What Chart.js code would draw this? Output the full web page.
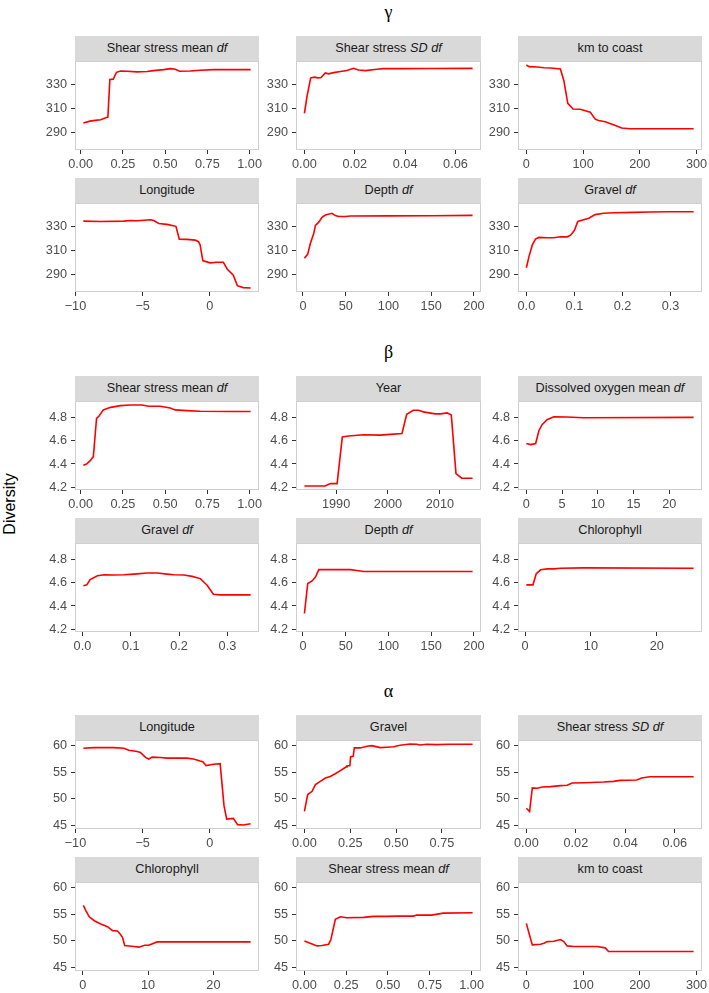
<!DOCTYPE html>
<html><head><meta charset="utf-8">
<script src="https://cdn.jsdelivr.net/npm/chart.js@4.4.0/dist/chart.umd.min.js"></script>
<style>
html,body{margin:0;padding:0;background:#fff;}
body{width:709px;height:993px;position:relative;overflow:hidden;font-family:'Liberation Sans',Arial,sans-serif;}
.strip{position:absolute;background:#D9D9D9;color:#1A1A1A;font-size:12.7px;text-align:center;height:25px;line-height:25px;white-space:nowrap;}
.gtitle{position:absolute;left:75px;width:627px;text-align:center;font-family:'Liberation Serif','DejaVu Serif',serif;font-size:18px;line-height:18px;color:#000;}
.ylab{position:absolute;left:10px;top:504px;transform:translate(-50%,-50%) rotate(-90deg);font-size:16px;color:#000;white-space:nowrap;}
canvas{position:absolute;}
</style></head><body>
<div class="ylab">Diversity</div>
<script>
// ---------- Tick values / labels ----------
const gammaYTicks = [290, 310, 330];
const betaYTicks = [4.2, 4.4, 4.6, 4.8];
const betaYLabels = ["4.2", "4.4", "4.6", "4.8"];
const alphaYTicks = [45, 50, 55, 60];
const ticks0to1 = [0, 0.25, 0.5, 0.75, 1];
const labels0to1 = ["0.00", "0.25", "0.50", "0.75", "1.00"];
const ticks0to075 = [0, 0.25, 0.5, 0.75];
const labels0to075 = ["0.00", "0.25", "0.50", "0.75"];
const ticksSD = [0, 0.02, 0.04, 0.06];
const labelsSD = ["0.00", "0.02", "0.04", "0.06"];
const ticksKm = [0, 100, 200, 300];
const labelsKm = ["0", "100", "200", "300"];
const ticksLon = [-10, -5, 0];
const labelsLon = ["\u221210", "\u22125", "0"];
const ticksDepth = [0, 50, 100, 150, 200];
const labelsDepth = ["0", "50", "100", "150", "200"];
const ticksGravelDf = [0, 0.1, 0.2, 0.3];
const labelsGravelDf = ["0.0", "0.1", "0.2", "0.3"];
const ticksYear = [1990, 2000, 2010];
const labelsYear = ["1990", "2000", "2010"];
const ticksDO = [0, 5, 10, 15, 20];
const labelsDO = ["0", "5", "10", "15", "20"];
const ticksChl = [0, 10, 20];
const labelsChl = ["0", "10", "20"];

// ---------- Group titles ----------
const groupTitles = ["\u03B3", "\u03B2", "\u03B1"];
const yAxisTitle = "Diversity";

// ---------- gamma ----------
const gShearMeanX = [0.016,0.055,0.098,0.118,0.153,0.161,0.173,0.193,0.212,0.236,0.275,0.334,0.393,0.432,0.491,0.530,0.560,0.586,0.648,0.707,0.786,0.904,1.006];
const gShearMeanY = [298.2,299.8,300.6,300.9,302.8,303.1,334.4,334.6,340.3,341.4,341.2,340.6,340.9,341.7,342.5,343.3,342.8,341.2,341.4,342.0,342.5,342.5,342.5];
const gShearSDX = [0,0.001,0.0025,0.004,0.0054,0.0066,0.0083,0.0096,0.0116,0.0143,0.0169,0.0195,0.0215,0.0242,0.0288,0.0314,0.0392,0.05,0.0668];
const gShearSDY = [306.3,320,335.7,336.3,335.7,336,339.8,339,340,340.9,341.7,343.6,342.2,341.7,342.8,343.3,343.3,343.4,343.5];
const gKmX = [0,4.7,19.3,31,42.6,60,66,73,82.3,95,112.7,121.4,127.3,139,153.5,168,182.7,217.7,294.8];
const gKmY = [346.3,345,344.7,344.1,343.9,343,333.5,314.5,309.9,309.6,307.1,301.4,300.3,299.3,296.8,294.1,293.5,293.5,293.5];
const gLonX = [-9.41,-8.12,-6.4,-5.9,-5.4,-4.42,-4.17,-3.8,-3.19,-2.52,-2.27,-1.7,-1.09,-0.84,-0.72,-0.52,0.02,0.52,1.01,1.31,1.75,2.05,2.49,3.04];
const gLonY = [334.6,334.3,334.6,335.1,334.9,335.7,335.1,332.7,331.9,330.3,319.7,319.5,318.9,317.6,314.9,301.9,300,300.5,300.5,294.6,289.7,281.1,279.5,279.2];
const gDepthX = [1.7,5.6,8.7,12.6,14.6,18.5,22.3,26.2,34,37.9,41.8,49.5,55.4,100,150,198.4];
const gDepthY = [303.8,307.3,316.2,324.3,331.1,333.8,337.8,339.7,341.1,339.2,338.4,338.4,338.9,339,339.1,339.4];
const gGravelX = [0,0.0055,0.0124,0.019,0.026,0.043,0.057,0.071,0.085,0.092,0.1,0.107,0.119,0.13,0.143,0.161,0.181,0.223,0.257,0.299,0.348];
const gGravelY = [296,305.4,314.9,319.7,321.1,320.8,320.8,321.6,321.6,323,327,334.3,335.7,337,340,341.1,341.6,341.9,342.2,342.4,342.4];

// ---------- beta ----------
const bShearMeanX = [0.016,0.035,0.055,0.075,0.094,0.11,0.134,0.177,0.236,0.295,0.363,0.403,0.472,0.53,0.56,0.629,0.707,0.904,1.006];
const bShearMeanY = [4.39,4.40,4.427,4.464,4.794,4.817,4.868,4.89,4.905,4.91,4.91,4.899,4.899,4.885,4.868,4.862,4.856,4.854,4.854];
const bYearX = [1983.9,1987.9,1988.9,1990.2,1991.2,1992.4,1995.3,1998.5,2000.4,2002.7,2003.6,2004.9,2005.9,2006.8,2009.1,2010.1,2011.4,2012.2,2013.1,2014.2,2016.3];
const bYearY = [4.21,4.21,4.23,4.23,4.633,4.642,4.653,4.65,4.656,4.664,4.83,4.865,4.865,4.851,4.834,4.834,4.842,4.823,4.317,4.277,4.277];
const bOxygenX = [0,0.6,1.3,1.76,2.2,2.9,3.84,5.7,8,23.4];
const bOxygenY = [4.577,4.568,4.577,4.69,4.74,4.783,4.808,4.806,4.8,4.803];
const bGravelX = [0.002,0.009,0.016,0.031,0.045,0.065,0.086,0.107,0.134,0.155,0.175,0.189,0.21,0.227,0.244,0.258,0.271,0.285,0.313,0.348];
const bGravelY = [4.575,4.583,4.628,4.662,4.67,4.668,4.67,4.676,4.685,4.685,4.676,4.67,4.668,4.656,4.637,4.58,4.501,4.496,4.496,4.496];
const bDepthX = [1.7,5.6,10.7,14.6,18.5,35.9,55.4,63.1,70.9,94.2,198.4];
const bDepthY = [4.335,4.594,4.617,4.65,4.715,4.715,4.715,4.707,4.699,4.699,4.699];
const bChlX = [0.2,1.2,1.7,2.37,3.37,4.38,5.39,8.9,25.6];
const bChlY = [4.583,4.583,4.679,4.713,4.721,4.721,4.727,4.73,4.727];

// ---------- alpha ----------
const aLonX = [-9.41,-8.62,-7.14,-6.4,-6.02,-5.4,-5.16,-4.79,-4.54,-4.3,-3.68,-3.19,-1.7,-1.21,-0.72,-0.52,-0.27,0.27,0.77,1.06,1.26,1.75,2.07,2.49,3.04];
const aLonY = [59.5,59.63,59.63,59.5,59.14,58.9,58.7,57.78,57.47,57.84,57.78,57.65,57.65,57.47,57.1,56.98,56.23,56.48,56.6,48.64,46.17,46.3,45.12,45.06,45.3];
const aGravelX = [0,0.018,0.042,0.06,0.087,0.114,0.141,0.168,0.196,0.214,0.228,0.232,0.248,0.252,0.266,0.272,0.304,0.341,0.368,0.413,0.449,0.486,0.522,0.576,0.612,0.63,0.667,0.721,0.793,0.917];
const aGravelY = [47.6,50.8,51.4,52.65,53.27,53.9,54.2,54.7,55.3,55.7,56.0,56.2,56.2,57.9,58.0,59.6,59.57,59.88,60,59.63,59.7,59.8,60.06,60.3,60.25,60.12,60.25,60.19,60.25,60.25];
const aShearSDX = [0,0.0013,0.0024,0.0044,0.0064,0.0098,0.0138,0.0165,0.0185,0.0232,0.0312,0.0352,0.0379,0.0446,0.0466,0.0499,0.0676];
const aShearSDY = [48.2,47.6,52.04,51.98,52.2,52.28,52.47,52.53,52.96,53.02,53.15,53.27,53.46,53.52,53.9,54.14,54.14];
const aChlX = [0.1,0.5,1.0,1.77,2.78,3.8,4.56,5.3,5.7,6.08,6.43,7.85,8.6,9.47,10.1,11.4,25.7];
const aChlY = [56.64,55.64,54.5,53.77,53.15,52.65,51.9,51.84,51.3,50.65,49.1,48.9,48.79,49.16,49.16,49.78,49.78];
const aShearMeanX = [0,0.046,0.076,0.105,0.145,0.159,0.185,0.215,0.254,0.354,0.414,0.493,0.553,0.652,0.672,0.761,0.831,1.006];
const aShearMeanY = [49.97,49.4,49.03,49.1,49.35,50.28,54.02,54.52,54.33,54.4,54.58,54.58,54.64,54.64,54.83,54.83,55.2,55.27];
const aKmX = [0,4.7,10.5,25.1,31,36.8,48.5,60.1,66,71.8,83.5,124.3,139,144.8,159.4,294.8];
const aKmY = [53.27,51.4,49.22,49.35,49.53,49.84,49.9,50.22,49.84,49.03,48.9,48.9,48.66,47.97,47.97,47.97];

// ---------- Layout ----------
const COL_LEFT = [75, 296, 518];
const COL_W = [184, 185, 184];
const GROUP_TOP = [36, 376, 715];
const ROW_STEP = 142;
const STRIP_H = 25;
const PLOT_H = 89;
const PAD_L = 50, PAD_R = 24, PAD_T = 12, XAX_H = 26;
const FONT_SIZE = 12.7;

const groupY = [
  {ticks: gammaYTicks, labels: gammaYTicks.map(String), data: [gShearMeanY, gShearSDY, gKmY, gLonY, gDepthY, gGravelY]},
  {ticks: betaYTicks, labels: betaYLabels, data: [bShearMeanY, bYearY, bOxygenY, bGravelY, bDepthY, bChlY]},
  {ticks: alphaYTicks, labels: alphaYTicks.map(String), data: [aLonY, aGravelY, aShearSDY, aChlY, aShearMeanY, aKmY]}
];

const panels = [
  {g:0,r:0,c:0,title:'Shear stress mean <i>df</i>',x:gShearMeanX,y:gShearMeanY,t:ticks0to1,l:labels0to1},
  {g:0,r:0,c:1,title:'Shear stress <i>SD df</i>',x:gShearSDX,y:gShearSDY,t:ticksSD,l:labelsSD},
  {g:0,r:0,c:2,title:'km to coast',x:gKmX,y:gKmY,t:ticksKm,l:labelsKm},
  {g:0,r:1,c:0,title:'Longitude',x:gLonX,y:gLonY,t:ticksLon,l:labelsLon},
  {g:0,r:1,c:1,title:'Depth <i>df</i>',x:gDepthX,y:gDepthY,t:ticksDepth,l:labelsDepth},
  {g:0,r:1,c:2,title:'Gravel <i>df</i>',x:gGravelX,y:gGravelY,t:ticksGravelDf,l:labelsGravelDf},
  {g:1,r:0,c:0,title:'Shear stress mean <i>df</i>',x:bShearMeanX,y:bShearMeanY,t:ticks0to1,l:labels0to1},
  {g:1,r:0,c:1,title:'Year',x:bYearX,y:bYearY,t:ticksYear,l:labelsYear},
  {g:1,r:0,c:2,title:'Dissolved oxygen mean <i>df</i>',x:bOxygenX,y:bOxygenY,t:ticksDO,l:labelsDO},
  {g:1,r:1,c:0,title:'Gravel <i>df</i>',x:bGravelX,y:bGravelY,t:ticksGravelDf,l:labelsGravelDf},
  {g:1,r:1,c:1,title:'Depth <i>df</i>',x:bDepthX,y:bDepthY,t:ticksDepth,l:labelsDepth},
  {g:1,r:1,c:2,title:'Chlorophyll',x:bChlX,y:bChlY,t:ticksChl,l:labelsChl},
  {g:2,r:0,c:0,title:'Longitude',x:aLonX,y:aLonY,t:ticksLon,l:labelsLon},
  {g:2,r:0,c:1,title:'Gravel',x:aGravelX,y:aGravelY,t:ticks0to075,l:labels0to075},
  {g:2,r:0,c:2,title:'Shear stress <i>SD df</i>',x:aShearSDX,y:aShearSDY,t:ticksSD,l:labelsSD},
  {g:2,r:1,c:0,title:'Chlorophyll',x:aChlX,y:aChlY,t:ticksChl,l:labelsChl},
  {g:2,r:1,c:1,title:'Shear stress mean <i>df</i>',x:aShearMeanX,y:aShearMeanY,t:ticks0to1,l:labels0to1},
  {g:2,r:1,c:2,title:'km to coast',x:aKmX,y:aKmY,t:ticksKm,l:labelsKm}
];

function expandRange(arrs) {
  let lo = Infinity, hi = -Infinity;
  arrs.forEach(a => a.forEach(v => { if (v < lo) lo = v; if (v > hi) hi = v; }));
  const r = hi - lo;
  return [lo - 0.05 * r, hi + 0.05 * r];
}

const borderPlugin = {
  id: 'panelBorder',
  afterDraw(chart) {
    const a = chart.chartArea, ctx = chart.ctx;
    ctx.save();
    ctx.strokeStyle = '#CFCFCF';
    ctx.lineWidth = 1;
    ctx.strokeRect(Math.round(a.left) + 0.5, Math.round(a.top) + 0.5, Math.round(a.right - a.left) - 1, Math.round(a.bottom - a.top) - 1);
    ctx.restore();
  }
};

Chart.defaults.font.family = "'Liberation Sans', Arial, sans-serif";
Chart.defaults.font.size = FONT_SIZE;
Chart.defaults.color = '#4D4D4D';

GROUP_TOP.forEach((top, i) => {
  const d = document.createElement('div');
  d.className = 'gtitle';
  d.style.top = (top - 33) + 'px';
  d.textContent = groupTitles[i];
  document.body.appendChild(d);
});

panels.forEach(p => {
  const left = COL_LEFT[p.c], w = COL_W[p.c];
  const stripTop = GROUP_TOP[p.g] + p.r * ROW_STEP;
  const plotTop = stripTop + STRIP_H;
  const s = document.createElement('div');
  s.className = 'strip';
  s.style.left = left + 'px'; s.style.top = stripTop + 'px'; s.style.width = w + 'px';
  s.innerHTML = p.title;
  document.body.appendChild(s);

  const cv = document.createElement('canvas');
  const cw = PAD_L + w + PAD_R, ch = PAD_T + PLOT_H + XAX_H;
  cv.width = cw; cv.height = ch;
  cv.style.width = cw + 'px'; cv.style.height = ch + 'px';
  cv.style.left = (left - PAD_L) + 'px'; cv.style.top = (plotTop - PAD_T) + 'px';
  document.body.appendChild(cv);

  const [xmin, xmax] = expandRange([p.x]);
  const gy = groupY[p.g];
  const [ymin, ymax] = expandRange(gy.data);

  new Chart(cv, {
    type: 'line',
    data: { datasets: [{ data: p.x.map((v, i) => ({ x: v, y: p.y[i] })), borderColor: '#FF0000', borderWidth: 1.6, pointRadius: 0, tension: 0, fill: false }] },
    options: {
      responsive: false, animation: false, devicePixelRatio: 1,
      layout: { padding: { left: 0, right: PAD_R, top: PAD_T, bottom: 0 } },
      plugins: { legend: { display: false }, tooltip: { enabled: false } },
      scales: {
        x: {
          type: 'linear', min: xmin, max: xmax,
          afterBuildTicks: sc => { sc.ticks = p.t.map(v => ({ value: v })); },
          afterFit: sc => { sc.height = XAX_H; },
          ticks: { autoSkip: false, maxRotation: 0, minRotation: 0, padding: 3, color: '#4D4D4D', font: { size: FONT_SIZE },
                   callback: v => p.l[p.t.indexOf(v)] },
          grid: { drawOnChartArea: false, drawTicks: true, tickLength: 4, tickColor: '#333333', tickWidth: 1 },
          border: { display: false }
        },
        y: {
          type: 'linear', min: ymin, max: ymax,
          afterBuildTicks: sc => { sc.ticks = gy.ticks.map(v => ({ value: v })); },
          afterFit: sc => { sc.width = PAD_L; },
          ticks: { autoSkip: false, padding: 4, color: '#4D4D4D', font: { size: FONT_SIZE },
                   callback: v => gy.labels[gy.ticks.indexOf(v)] },
          grid: { drawOnChartArea: false, drawTicks: true, tickLength: 4, tickColor: '#333333', tickWidth: 1 },
          border: { display: false }
        }
      }
    },
    plugins: [borderPlugin]
  });
});
</script>
</body></html>
